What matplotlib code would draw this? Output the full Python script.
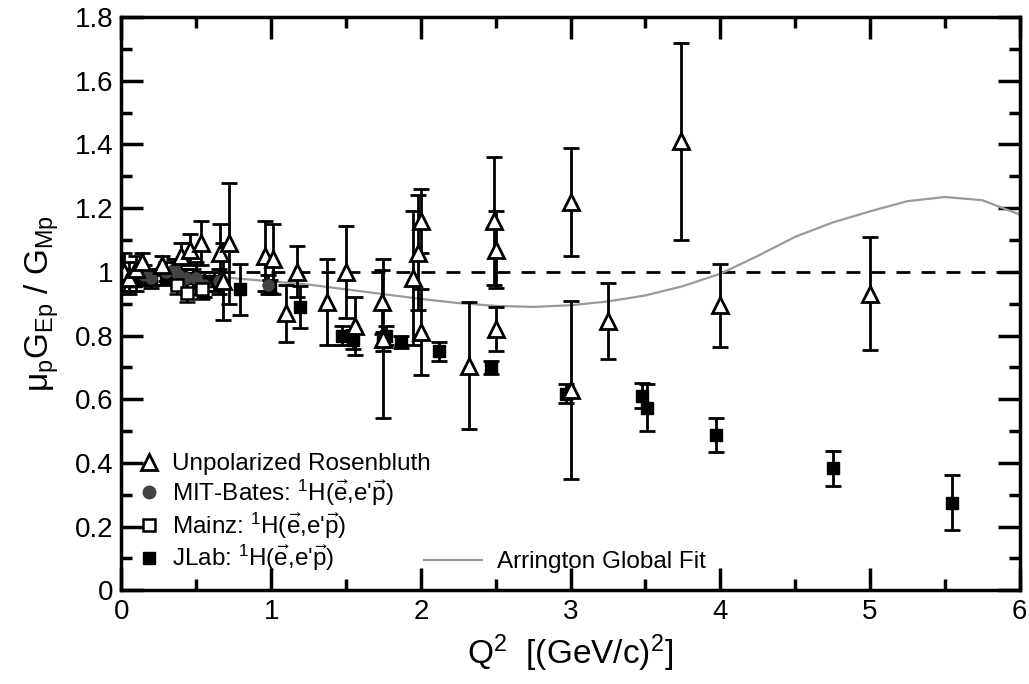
import matplotlib.pyplot as plt
from matplotlib.lines import Line2D

plt.rcParams['font.family'] = ['Liberation Sans', 'DejaVu Sans']
plt.rcParams['mathtext.fontset'] = 'custom'
plt.rcParams['mathtext.rm'] = 'Liberation Sans'
plt.rcParams['mathtext.it'] = 'Liberation Sans:italic'
plt.rcParams['mathtext.default'] = 'regular'

# Unpolarized Rosenbluth (open triangles)
ros_q2 = [0.02, 0.05, 0.10, 0.14, 0.27, 0.40, 0.46, 0.53, 0.66, 0.72, 0.68,
          0.96, 1.01, 1.10, 1.17, 1.37, 1.50, 1.56, 1.74, 1.75, 1.95, 1.98,
          2.00, 2.00, 2.32, 2.49, 2.50, 2.50, 3.00, 3.00, 3.25, 3.74, 4.00, 5.00]
ros_g = [1.00, 0.98, 1.01, 1.03, 1.02, 1.05, 1.07, 1.09, 1.06, 1.09, 0.97,
         1.05, 1.04, 0.87, 1.00, 0.905, 1.00, 0.83, 0.905, 0.79, 0.98, 1.06,
         1.16, 0.81, 0.705, 1.16, 1.07, 0.82, 1.22, 0.63, 0.845, 1.41, 0.895, 0.932]
ros_err = [0.06, 0.05, 0.04, 0.03, 0.03, 0.04, 0.05, 0.07, 0.09, 0.19, 0.12,
           0.11, 0.11, 0.09, 0.08, 0.135, 0.145, 0.09, 0.10, 0.25, 0.21, 0.18,
           0.10, 0.135, 0.20, 0.20, 0.12, 0.07, 0.17, 0.28, 0.12, 0.31, 0.13, 0.177]

# MIT-Bates (filled circles)
mit_q2 = [0.15, 0.20, 0.30, 0.35, 0.38, 0.43, 0.50, 0.55, 0.65, 0.98]
mit_g = [0.99, 0.98, 1.00, 1.01, 0.99, 0.98, 0.98, 0.96, 0.97, 0.96]
mit_err = [0.03, 0.03, 0.03, 0.03, 0.04, 0.03, 0.05, 0.04, 0.04, 0.03]

# Mainz (open squares)
mainz_q2 = [0.37, 0.44, 0.54]
mainz_g = [0.96, 0.935, 0.945]
mainz_err = [0.03, 0.03, 0.03]

# JLab (filled squares)
jlab_q2 = [0.05, 0.10, 0.20, 0.30, 0.48, 0.55, 0.62, 0.79, 0.99, 1.19, 1.47,
           1.55, 1.75, 1.77, 1.87, 2.12, 2.47, 2.97, 3.475, 3.51, 3.97, 4.75, 5.55]
jlab_g = [0.97, 0.97, 0.98, 0.98, 0.98, 0.97, 0.97, 0.945, 0.955, 0.89, 0.80,
          0.787, 0.78, 0.80, 0.78, 0.75, 0.70, 0.617, 0.611, 0.574, 0.488, 0.383, 0.275]
jlab_err = [0.03, 0.03, 0.02, 0.02, 0.03, 0.03, 0.03, 0.08, 0.02, 0.065, 0.03,
            0.03, 0.03, 0.03, 0.02, 0.03, 0.02, 0.03, 0.04, 0.074, 0.053, 0.055, 0.087]

# Arrington global fit
fit_q2 = [0.0, 0.25, 0.5, 0.75, 1.0, 1.25, 1.5, 1.75, 2.0, 2.25, 2.5, 2.75, 3.0,
          3.25, 3.5, 3.75, 4.0, 4.25, 4.5, 4.75, 5.0, 5.25, 5.5, 5.75, 6.0]
fit_g = [1.0, 0.995, 0.99, 0.98, 0.97, 0.96, 0.945, 0.93, 0.915, 0.902, 0.893,
         0.89, 0.895, 0.907, 0.926, 0.955, 0.994, 1.05, 1.11, 1.155, 1.19, 1.222,
         1.235, 1.225, 1.18]

fig = plt.figure(figsize=(10.29, 6.84), dpi=100)
ax = fig.add_axes([0.118, 0.137, 0.873, 0.838])

ax.axhline(1.0, color='black', lw=2, dashes=(5, 4))
ax.plot(fit_q2, fit_g, color='#9a9a9a', lw=1.6)

eb = dict(ls='none', ecolor='black', elinewidth=2, capsize=6, capthick=2)
ax.errorbar(jlab_q2, jlab_g, yerr=jlab_err, marker='s', ms=8, mfc='black', mec='black', **eb)
ax.errorbar(mit_q2, mit_g, yerr=mit_err, marker='o', ms=8, mfc='#444444', mec='#444444', **eb)
ax.errorbar(mainz_q2, mainz_g, yerr=mainz_err, marker='s', ms=8, mfc='white', mec='black', mew=1.8, **eb)
ax.errorbar(ros_q2, ros_g, yerr=ros_err, marker='^', ms=12, mfc='white', mec='black', mew=2, **eb)

ax.set_xlim(0, 6)
ax.set_ylim(0, 1.8)
ax.set_xticks([0, 1, 2, 3, 4, 5, 6])
ax.set_xticks([0.5, 1.5, 2.5, 3.5, 4.5, 5.5], minor=True)
ax.set_yticks([0, 0.2, 0.4, 0.6, 0.8, 1.0, 1.2, 1.4, 1.6, 1.8])
ax.set_yticklabels(['0', '0.2', '0.4', '0.6', '0.8', '1', '1.2', '1.4', '1.6', '1.8'])
ax.set_yticks([0.1, 0.3, 0.5, 0.7, 0.9, 1.1, 1.3, 1.5, 1.7], minor=True)
ax.tick_params(which='both', direction='in', top=True, right=True, width=2.5, labelsize=20, pad=6)
ax.tick_params(which='major', length=16)
ax.tick_params(which='minor', length=8)
for s in ax.spines.values():
    s.set_linewidth(2.5)

ax.set_xlabel(r'Q$^2$  [(GeV/c)$^2$]', fontsize=24, labelpad=6)
ax.set_ylabel(r'$\mu_p$G$_{Ep}$ / G$_{Mp}$', fontsize=24, labelpad=10)

vec = r"$^1$H($\vec{e}$,e'$\vec{p}$)"
handles = [
    Line2D([], [], ls='none', marker='^', ms=12, mfc='white', mec='black', mew=2),
    Line2D([], [], ls='none', marker='o', ms=9, mfc='#444444', mec='#444444'),
    Line2D([], [], ls='none', marker='s', ms=9, mfc='white', mec='black', mew=1.8),
    Line2D([], [], ls='none', marker='s', ms=9, mfc='black', mec='black'),
]
labels = ['Unpolarized Rosenbluth', 'MIT-Bates: ' + vec, 'Mainz: ' + vec, 'JLab: ' + vec]
leg1 = ax.legend(handles, labels, loc='lower left', bbox_to_anchor=(0.0, 0.0),
                 frameon=False, fontsize=17.5, handlelength=0.9, handletextpad=0.5,
                 labelspacing=0.1, borderaxespad=0.3)
ax.add_artist(leg1)
fit_handle = Line2D([], [], color='#9a9a9a', lw=1.6)
ax.legend([fit_handle], ['Arrington Global Fit'], loc='lower left',
          bbox_to_anchor=(0.318, 0.0), frameon=False, fontsize=17.5,
          handlelength=2.4, handletextpad=0.6, borderaxespad=0.3)

fig.savefig('out.png', dpi=100)
